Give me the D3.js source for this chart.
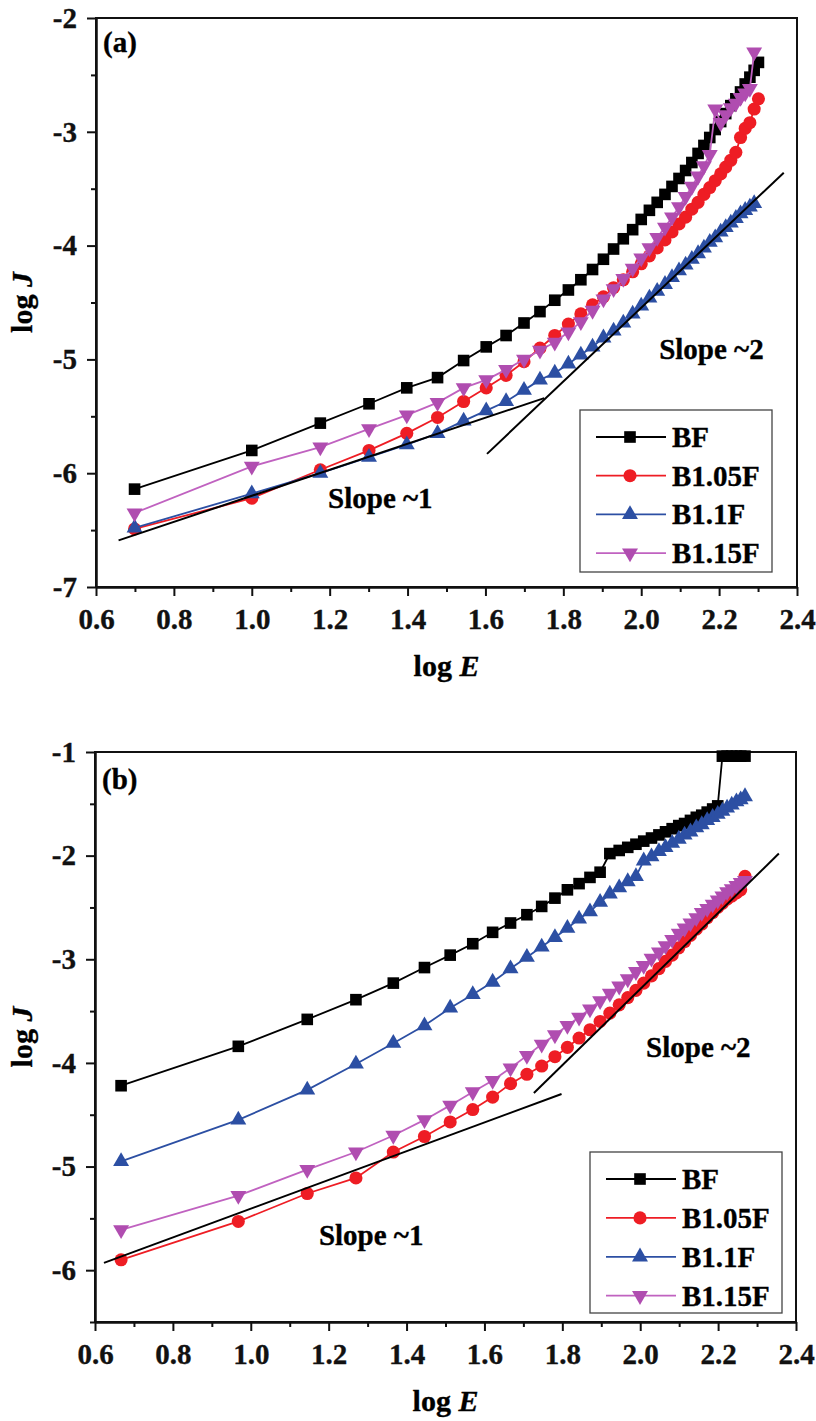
<!DOCTYPE html>
<html>
<head>
<meta charset="utf-8">
<script src="https://cdn.jsdelivr.net/npm/d3@7"></script>
<style>
  html, body { margin: 0; padding: 0; background: #fff; }
  svg text { font-family: "Liberation Serif", "Times New Roman", serif; font-weight: bold; stroke: currentColor; stroke-width: 0.35px; }
</style>
</head>
<body>
<svg id="fig" width="816" height="1421"></svg>
<script>
// ---- Panel (a): log J vs log E ----
const logEA = [0.699,1.000,1.176,1.301,1.398,1.477,1.544,1.602,1.653,1.699,1.740,1.778,1.813,1.845,1.875,1.903,1.929,1.954,1.978,2.000,2.021,2.041,2.061,2.079,2.097,2.114,2.130,2.146,2.161,2.176,2.190,2.204,2.217,2.230,2.243,2.255,2.267,2.279,2.290,2.301];
const bfA    = [-6.14,-5.80,-5.56,-5.39,-5.25,-5.16,-5.01,-4.89,-4.79,-4.68,-4.58,-4.48,-4.39,-4.30,-4.21,-4.12,-4.03,-3.94,-3.86,-3.77,-3.69,-3.62,-3.55,-3.48,-3.41,-3.34,-3.27,-3.19,-3.12,-3.05,-2.98,-2.91,-2.84,-2.77,-2.71,-2.65,-2.58,-2.52,-2.46,-2.39];
const b105A  = [-6.49,-6.22,-5.97,-5.80,-5.65,-5.51,-5.37,-5.25,-5.14,-5.02,-4.90,-4.79,-4.69,-4.60,-4.52,-4.45,-4.37,-4.30,-4.23,-4.16,-4.09,-4.02,-3.95,-3.88,-3.81,-3.75,-3.68,-3.62,-3.55,-3.49,-3.43,-3.37,-3.31,-3.25,-3.18,-3.05,-2.97,-2.92,-2.80,-2.71];
const b11A   = [-6.48,-6.18,-6.00,-5.86,-5.75,-5.65,-5.54,-5.45,-5.37,-5.27,-5.18,-5.12,-5.04,-4.96,-4.89,-4.81,-4.75,-4.68,-4.60,-4.53,-4.46,-4.40,-4.34,-4.28,-4.22,-4.17,-4.12,-4.07,-4.02,-3.97,-3.93,-3.88,-3.84,-3.80,-3.76,-3.72,-3.69,-3.66,-3.63];
const b115A  = [-6.35,-5.94,-5.77,-5.61,-5.49,-5.38,-5.25,-5.18,-5.09,-5.00,-4.92,-4.85,-4.76,-4.67,-4.57,-4.47,-4.38,-4.29,-4.20,-4.11,-4.02,-3.93,-3.84,-3.75,-3.66,-3.57,-3.48,-3.39,-3.30,-3.20,-2.80,-2.92,-2.85,-2.79,-2.75,-2.70,-2.66,-2.62,-2.30];
const fitA1 = [[0.658,-6.59],[1.751,-5.34]];
const fitA2 = [[1.604,-5.83],[2.366,-3.36]];

// ---- Panel (b) ----
const logEB = [0.667,0.968,1.145,1.270,1.366,1.446,1.512,1.570,1.621,1.667,1.709,1.747,1.781,1.813,1.843,1.871,1.897,1.922,1.946,1.968,1.989,2.009,2.029,2.048,2.065,2.082,2.099,2.114,2.129,2.144,2.158,2.172,2.186,2.199,2.211,2.223,2.235,2.247,2.258,2.269];
const bfB    = [-4.22,-3.84,-3.58,-3.39,-3.23,-3.08,-2.96,-2.85,-2.74,-2.65,-2.57,-2.49,-2.41,-2.33,-2.27,-2.21,-2.16,-1.98,-1.95,-1.92,-1.89,-1.86,-1.83,-1.80,-1.77,-1.74,-1.71,-1.69,-1.66,-1.63,-1.61,-1.58,-1.55,-1.52,-1.04,-1.04,-1.04,-1.04,-1.04,-1.04];
const b105B  = [-5.90,-5.53,-5.26,-5.11,-4.86,-4.71,-4.57,-4.45,-4.33,-4.20,-4.11,-4.03,-3.94,-3.85,-3.76,-3.68,-3.60,-3.52,-3.44,-3.37,-3.30,-3.23,-3.16,-3.09,-3.02,-2.96,-2.89,-2.83,-2.77,-2.71,-2.66,-2.60,-2.55,-2.50,-2.46,-2.42,-2.39,-2.36,-2.33,-2.20];
const b11B   = [-4.95,-4.55,-4.26,-4.01,-3.81,-3.64,-3.47,-3.34,-3.22,-3.09,-2.98,-2.88,-2.79,-2.70,-2.61,-2.54,-2.45,-2.37,-2.31,-2.25,-2.20,-2.05,-2.01,-1.96,-1.92,-1.88,-1.84,-1.80,-1.77,-1.73,-1.70,-1.66,-1.63,-1.60,-1.57,-1.54,-1.51,-1.48,-1.46,-1.43];
const b115B  = [-5.61,-5.28,-5.03,-4.86,-4.70,-4.55,-4.41,-4.28,-4.17,-4.05,-3.93,-3.82,-3.73,-3.64,-3.56,-3.48,-3.40,-3.33,-3.26,-3.19,-3.12,-3.06,-2.99,-2.93,-2.87,-2.81,-2.75,-2.70,-2.65,-2.60,-2.55,-2.51,-2.47,-2.43,-2.39,-2.35,-2.32,-2.29,-2.26,-2.24];
const fitB1 = [[0.623,-5.93],[1.798,-4.30]];
const fitB2 = [[1.727,-4.29],[2.356,-1.98]];

// ---- Shared labels and ticks ----
const seriesNames = ["BF", "B1.05F", "B1.1F", "B1.15F"];
const xMajor = [0.6, 0.8, 1.0, 1.2, 1.4, 1.6, 1.8, 2.0, 2.2, 2.4];
const xMinor = [0.7, 0.9, 1.1, 1.3, 1.5, 1.7, 1.9, 2.1, 2.3];
const yMajorA = [-7, -6, -5, -4, -3, -2];
const yMinorA = [-6.5, -5.5, -4.5, -3.5, -2.5];
const yMajorB = [-6, -5, -4, -3, -2, -1];
const yMinorB = [-6.5, -5.5, -4.5, -3.5, -2.5, -1.5];

const styles = [
  { color: "#000000", line: "#000000", symbol: d3.symbolSquare,   size: 135, rot: 0 },
  { color: "#ee1d24", line: "#ee1d24", symbol: d3.symbolCircle,   size: 135, rot: 0 },
  { color: "#2c4fa3", line: "#2c4fa3", symbol: d3.symbolTriangle, size: 110, rot: 0 },
  { color: "#b04db0", line: "#c062c0", symbol: d3.symbolTriangle, size: 110, rot: 180 }
];

const svg = d3.select("#fig");
const FS = 29;

function panel(cfg) {
  const x = d3.scaleLinear().domain([0.6, 2.4]).range(cfg.xr);
  const y = d3.scaleLinear().domain(cfg.yd).range(cfg.yr);
  const g = svg.append("g");

  // frame
  g.append("rect")
    .attr("x", cfg.xr[0]).attr("y", cfg.yr[1])
    .attr("width", cfg.xr[1] - cfg.xr[0]).attr("height", cfg.yr[0] - cfg.yr[1])
    .attr("fill", "none").attr("stroke", "#111").attr("stroke-width", 2);

  // axes: major + minor ticks, outward
  g.append("g").attr("transform", `translate(0,${cfg.yr[0]})`)
    .call(d3.axisBottom(x).tickValues(xMajor).tickFormat(d3.format(".1f")).tickSize(9).tickSizeOuter(0).tickPadding(12));
  g.append("g").attr("transform", `translate(0,${cfg.yr[0]})`)
    .call(d3.axisBottom(x).tickValues(xMinor).tickFormat("").tickSize(5).tickSizeOuter(0));
  g.append("g").attr("transform", `translate(${cfg.xr[0]},0)`)
    .call(d3.axisLeft(y).tickValues(cfg.yMajor).tickFormat(d => String(d)).tickSize(9).tickSizeOuter(0).tickPadding(10));
  g.append("g").attr("transform", `translate(${cfg.xr[0]},0)`)
    .call(d3.axisLeft(y).tickValues(cfg.yMinor).tickFormat("").tickSize(5).tickSizeOuter(0));
  g.selectAll(".domain").attr("stroke", "#111").attr("stroke-width", 2);
  g.selectAll(".tick line").attr("stroke", "#111").attr("stroke-width", 2);
  g.selectAll(".tick text").attr("font-size", FS).attr("fill", "#111").attr("color", "#111")
    .style("font-family", "'Liberation Serif', 'Times New Roman', serif").style("font-weight", "bold");

  // series
  const line = d3.line().x(d => x(d[0])).y(d => y(d[1]));
  cfg.series.forEach((vals, i) => {
    const st = styles[i];
    const pts = vals.map((v, j) => [cfg.xs[j], v]);
    g.append("path").attr("d", line(pts)).attr("fill", "none")
      .attr("stroke", st.line).attr("stroke-width", 1.8);
    g.selectAll(null).data(pts).enter().append("path")
      .attr("d", d3.symbol().type(st.symbol).size(st.size))
      .attr("transform", d => `translate(${x(d[0])},${y(d[1])}) rotate(${st.rot})`)
      .attr("fill", st.color);
  });

  // guide lines
  [cfg.fit1, cfg.fit2].forEach(f => {
    g.append("path").attr("d", line(f)).attr("fill", "none")
      .attr("stroke", "#000").attr("stroke-width", 2);
  });

  // annotations
  g.append("text").attr("x", x(cfg.s2[0])).attr("y", y(cfg.s2[1]))
    .attr("font-size", FS).text("Slope ~2");
  g.append("text").attr("x", x(cfg.s1[0])).attr("y", y(cfg.s1[1]))
    .attr("font-size", FS).text("Slope ~1");
  g.append("text").attr("x", cfg.xr[0] + 7).attr("y", cfg.yr[1] + cfg.tagDy)
    .attr("font-size", 29).text(cfg.tag);

  // axis titles
  const lx = g.append("text").attr("text-anchor", "middle")
    .attr("x", (cfg.xr[0] + cfg.xr[1]) / 2).attr("y", cfg.yr[0] + 89)
    .attr("font-size", 30);
  lx.append("tspan").text("log ");
  lx.append("tspan").attr("font-style", "italic").text("E");
  const ly = g.append("text").attr("text-anchor", "middle")
    .attr("transform", `translate(32,${(cfg.yr[0] + cfg.yr[1]) / 2}) rotate(-90)`)
    .attr("font-size", 30);
  ly.append("tspan").text("log ");
  ly.append("tspan").attr("font-style", "italic").text("J");

  // legend
  const L = cfg.legend;
  g.append("rect").attr("x", L.x).attr("y", L.y).attr("width", L.w).attr("height", L.h)
    .attr("fill", "#fff").attr("stroke", "#444").attr("stroke-width", 1.3);
  seriesNames.forEach((name, i) => {
    const st = styles[i];
    const cy = L.y + L.first + i * L.step;
    g.append("line").attr("x1", L.x + 16).attr("x2", L.x + 86).attr("y1", cy).attr("y2", cy)
      .attr("stroke", st.line).attr("stroke-width", 1.8);
    g.append("path").attr("d", d3.symbol().type(st.symbol).size(st.size))
      .attr("transform", `translate(${L.x + 50},${cy}) rotate(${st.rot})`).attr("fill", st.color);
    g.append("text").attr("x", L.x + 92).attr("y", cy + 10).attr("font-size", FS).text(name);
  });
}

panel({
  xr: [96, 797], yd: [-7, -2], yr: [587, 18],
  yMajor: yMajorA, yMinor: yMinorA,
  xs: logEA, series: [bfA, b105A, b11A, b115A],
  fit1: fitA1, fit2: fitA2,
  s2: [2.046, -5.0], s1: [1.196, -6.31],
  tag: "(a)", tagDy: 34,
  legend: { x: 580, y: 410, w: 192, h: 162, first: 27, step: 38.7 }
});

panel({
  xr: [95, 796], yd: [-6.5, -1], yr: [1322, 752],
  yMajor: yMajorB, yMinor: yMinorB,
  xs: logEB, series: [bfB, b105B, b11B, b115B],
  fit1: fitB1, fit2: fitB2,
  s2: [2.015, -3.94], s1: [1.175, -5.76],
  tag: "(b)", tagDy: 37,
  legend: { x: 590, y: 1152, w: 192, h: 161, first: 27, step: 38.9 }
});
</script>
</body>
</html>
